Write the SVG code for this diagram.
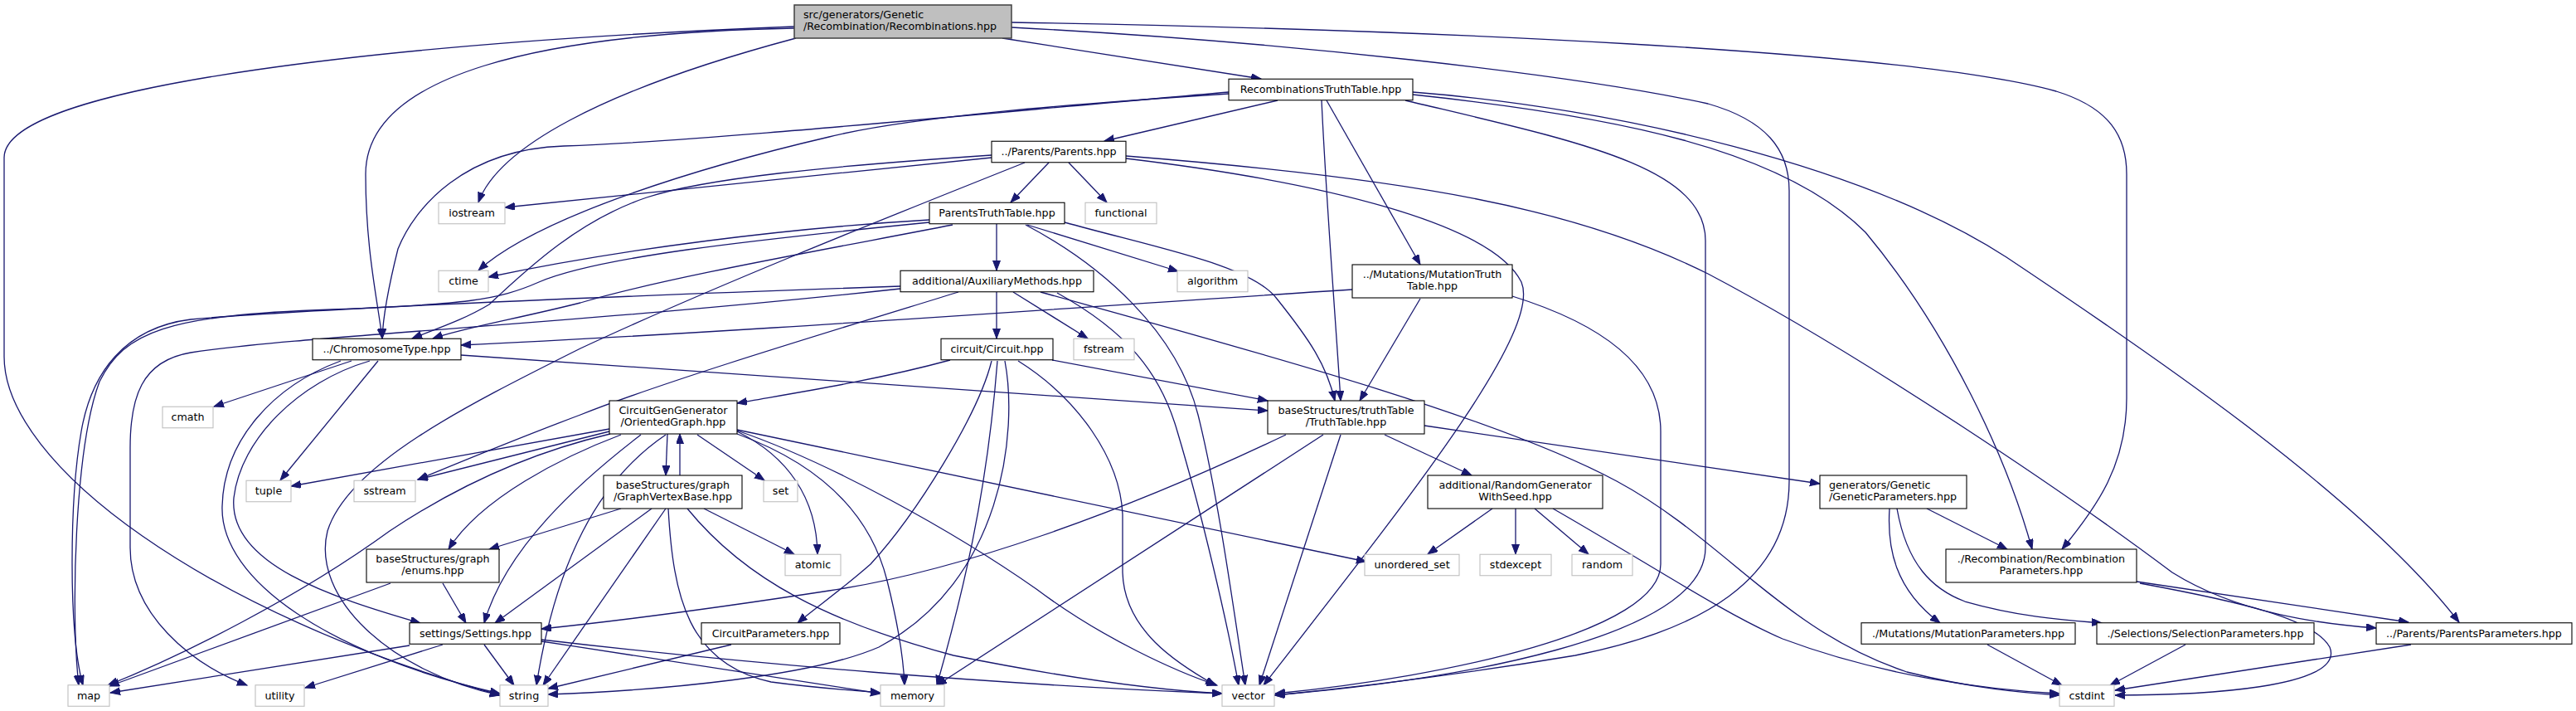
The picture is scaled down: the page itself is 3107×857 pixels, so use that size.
<svg xmlns="http://www.w3.org/2000/svg" width="3107" height="857" viewBox="0 0 3107 857">
<style>
rect{stroke-width:1.1}
.n rect{fill:#fff;stroke:#000}
.s rect{fill:#fff;stroke:#bfbfbf}
.r rect{fill:#bfbfbf;stroke:#404040;stroke-width:1.5}
text{font-family:"DejaVu Sans","Liberation Sans",sans-serif;font-size:12.7px;fill:#000;text-anchor:middle}
.l text{text-anchor:start}
#edges path{fill:none;stroke:#191970;stroke-width:1.3;marker-end:url(#a)}
</style>
<defs>
<marker id="a" markerWidth="14" markerHeight="11" refX="12" refY="4.5" orient="auto" markerUnits="userSpaceOnUse"><path d="M0,0 L12,4.5 L0,9 z" fill="#191970" stroke="#191970" stroke-width="1"/></marker>
</defs>
<rect width="3107" height="857" fill="#fff"/>
<g id="edges">
<path d="M958,32 C500,50 5,100 5,190 L5,430 C5,560 250,740 603,838"/>
<path d="M958,34 C650,40 441,90 441,210 C441,300 455,360 461,408"/>
<path d="M960,46 C720,110 600,180 577,244"/>
<path d="M1209,46 L1521,95"/>
<path d="M1220,27 C1700,35 2300,60 2480,110 C2545,130 2565,165 2565,210 L2565,480 C2565,560 2530,610 2487,662"/>
<path d="M1220,33 C1550,50 1900,90 2060,125 C2130,145 2158,180 2158,230 L2158,580 C2158,700 2050,760 1900,790 C1750,815 1620,830 1538,838"/>
<path d="M1482,111 C1150,140 850,170 680,176 C560,180 500,250 480,300 C470,340 462,380 461,408"/>
<path d="M1482,113 C1300,125 1100,140 1000,165 C850,200 650,260 577,326"/>
<path d="M1541,121 L1332,170"/>
<path d="M1594,121 C1600,250 1612,400 1617,483"/>
<path d="M1600,121 L1713,319"/>
<path d="M1695,121 C1900,170 2057,200 2057,290 L2057,660 C2057,770 1750,820 1537,838"/>
<path d="M1704,111 C1950,130 2250,200 2420,310 C2600,430 2850,600 2966,750"/>
<path d="M1704,114 C1950,140 2150,180 2250,280 C2350,400 2420,550 2451,662"/>
<path d="M1196,187 C1000,200 850,215 780,238 C700,265 640,320 590,367 C560,385 530,395 497,408"/>
<path d="M1196,190 C1000,210 800,230 609,250"/>
<path d="M1236,196 C1050,270 850,350 700,420 C560,490 420,560 395,640 C375,720 470,810 603,838"/>
<path d="M1265,196 L1219,244"/>
<path d="M1289,196 L1335,244"/>
<path d="M1358,191 C1600,220 1800,270 1835,340 C1860,400 1700,600 1524,826"/>
<path d="M1358,188 C1700,215 1900,250 2060,330 C2250,430 2500,600 2620,690 C2700,740 2800,752 2866,757"/>
<path d="M1121,265 C950,275 750,300 589,334"/>
<path d="M1149,271 C1000,300 800,335 700,365 C620,385 560,395 522,408"/>
<path d="M1121,268 C900,290 720,310 650,340 C600,362 560,367 400,373 C200,380 150,400 120,460 C90,540 85,740 95,826"/>
<path d="M1202,270 L1202,326"/>
<path d="M1239,271 L1421,327"/>
<path d="M1237,271 C1330,320 1420,400 1445,500 C1470,600 1490,750 1502,826"/>
<path d="M1284,268 C1400,300 1510,320 1540,360 C1580,410 1600,440 1610,483"/>
<path d="M1202,352 L1202,408"/>
<path d="M1222,352 L1312,408"/>
<path d="M1156,352 C1000,400 800,460 700,500 C620,530 560,555 504,578"/>
<path d="M1255,352 C1500,420 1800,500 1950,580 C2080,650 2150,760 2300,810 C2380,830 2440,835 2484,838"/>
<path d="M1275,353 C1360,400 1400,450 1420,520 C1450,620 1480,750 1494,826"/>
<path d="M1086,345 C800,355 400,370 230,385 C150,395 110,450 98,520 C84,600 82,760 100,826"/>
<path d="M1086,348 C700,390 360,405 230,425 C170,435 157,480 157,540 L157,660 C157,740 230,800 298,826"/>
<path d="M1146,434 C1050,460 950,475 889,486"/>
<path d="M1269,434 L1529,483"/>
<path d="M1196,435 C1180,500 1105,620 1050,680 C1010,715 980,735 962,751"/>
<path d="M1203,435 C1190,600 1160,720 1130,826"/>
<path d="M1212,435 C1228,520 1210,700 1060,780 C980,815 800,832 661,837"/>
<path d="M1228,435 C1300,480 1351,553 1354,620 L1354,690 C1356,760 1420,800 1466,826"/>
<path d="M1631,349 C1300,370 900,400 556,416"/>
<path d="M1713,360 L1640,483"/>
<path d="M1824,357 C1930,390 2003,440 2003,520 L2003,680 C2003,760 1750,815 1538,836"/>
<path d="M556,428 L1529,495"/>
<path d="M424,435 L258,490"/>
<path d="M456,435 L338,579"/>
<path d="M446,435 C360,460 290,530 282,600 C275,680 400,720 507,751"/>
<path d="M411,435 C330,465 270,530 268,610 C265,700 400,790 603,836"/>
<path d="M805,523 L803,573"/>
<path d="M820,573 L820,523"/>
<path d="M735,517 L351,586"/>
<path d="M735,520 L504,578"/>
<path d="M736,523 C620,550 530,600 470,640 C360,720 220,790 130,826"/>
<path d="M749,524 C680,550 580,600 541,662"/>
<path d="M773,524 C700,580 610,660 584,751"/>
<path d="M803,524 C720,580 670,680 647,826"/>
<path d="M841,524 L922,579"/>
<path d="M889,520 C950,550 985,600 986,668"/>
<path d="M889,518 L1648,677"/>
<path d="M889,523 C990,560 1050,620 1070,700 C1085,760 1090,800 1091,826"/>
<path d="M889,519 C1000,557 1150,640 1250,710 C1330,770 1420,810 1468,826"/>
<path d="M749,613 L590,662"/>
<path d="M786,613 L597,751"/>
<path d="M803,613 L655,826"/>
<path d="M849,613 L958,668"/>
<path d="M806,613 C812,720 830,800 930,822 C990,830 1030,832 1062,835"/>
<path d="M829,613 C900,700 1000,750 1150,790 C1300,820 1400,832 1474,836"/>
<path d="M471,703 L132,827"/>
<path d="M534,703 L562,751"/>
<path d="M494,778 L133,835"/>
<path d="M534,777 L368,829"/>
<path d="M584,777 L620,826"/>
<path d="M653,773 C800,795 950,820 1062,836"/>
<path d="M653,771 C900,800 1200,825 1474,836"/>
<path d="M882,777 L661,830"/>
<path d="M1551,524 C1350,620 1150,690 1000,712 C850,735 750,748 653,758"/>
<path d="M1596,524 L1130,826"/>
<path d="M1617,524 L1519,826"/>
<path d="M1670,524 L1775,573"/>
<path d="M1718,513 L2195,583"/>
<path d="M1800,613 L1722,668"/>
<path d="M1828,613 L1828,668"/>
<path d="M1851,613 L1916,668"/>
<path d="M1873,613 C1990,680 2080,740 2150,770 C2270,815 2400,832 2484,836"/>
<path d="M2324,613 L2421,662"/>
<path d="M2279,613 C2276,660 2285,710 2340,751"/>
<path d="M2288,613 C2300,680 2330,710 2370,725 C2440,745 2500,748 2535,751"/>
<path d="M2577,701 L2905,750"/>
<path d="M2581,703 C2700,725 2790,745 2810,780 C2830,830 2650,838 2551,838"/>
<path d="M2397,777 L2487,826"/>
<path d="M2636,777 L2545,826"/>
<path d="M2908,777 L2551,832"/>
</g>
<g id="root" class="r l"><rect x="958" y="6" width="262" height="40"/><text x="969" y="21.5">src/generators/Genetic</text><text x="969" y="36">/Recombination/Recombinations.hpp</text></g>
<g id="recombinationsTruthTable" class="n"><rect x="1482" y="95.25" width="222" height="25.5"/><text x="1593" y="112">RecombinationsTruthTable.hpp</text></g>
<g id="parents" class="n"><rect x="1196" y="170.25" width="162" height="25.5"/><text x="1277" y="187">../Parents/Parents.hpp</text></g>
<g id="parentsTruthTable" class="n"><rect x="1121" y="244.25" width="163" height="25.5"/><text x="1202.5" y="261">ParentsTruthTable.hpp</text></g>
<g id="functional" class="s"><rect x="1309" y="244.25" width="86" height="25.5"/><text x="1352" y="261">functional</text></g>
<g id="iostream" class="s"><rect x="529" y="244.25" width="80" height="25.5"/><text x="569" y="261">iostream</text></g>
<g id="ctime" class="s"><rect x="529" y="326.25" width="60" height="25.5"/><text x="559" y="343">ctime</text></g>
<g id="auxiliaryMethods" class="n"><rect x="1086" y="326.25" width="233" height="25.5"/><text x="1202.5" y="343">additional/AuxiliaryMethods.hpp</text></g>
<g id="algorithm" class="s"><rect x="1420" y="326.25" width="85" height="25.5"/><text x="1462.5" y="343">algorithm</text></g>
<g id="mutationTruthTable" class="n"><rect x="1631" y="319" width="193" height="40"/><text x="1727.5" y="334.5">../Mutations/MutationTruth</text><text x="1727.5" y="349">Table.hpp</text></g>
<g id="chromosomeType" class="n"><rect x="377" y="408.25" width="179" height="25.5"/><text x="466.5" y="425">../ChromosomeType.hpp</text></g>
<g id="circuit" class="n"><rect x="1135" y="408.25" width="135" height="25.5"/><text x="1202.5" y="425">circuit/Circuit.hpp</text></g>
<g id="fstream" class="s"><rect x="1295" y="408.25" width="73" height="25.5"/><text x="1331.5" y="425">fstream</text></g>
<g id="cmath" class="s"><rect x="196" y="490.25" width="61" height="25.5"/><text x="226.5" y="507">cmath</text></g>
<g id="orientedGraph" class="n"><rect x="735" y="483" width="154" height="40"/><text x="812" y="498.5">CircuitGenGenerator</text><text x="812" y="513">/OrientedGraph.hpp</text></g>
<g id="truthTable" class="n"><rect x="1529" y="483" width="189" height="40"/><text x="1623.5" y="498.5">baseStructures/truthTable</text><text x="1623.5" y="513">/TruthTable.hpp</text></g>
<g id="tuple" class="s"><rect x="297" y="579.25" width="54" height="25.5"/><text x="324" y="596">tuple</text></g>
<g id="sstream" class="s"><rect x="427" y="579.25" width="74" height="25.5"/><text x="464" y="596">sstream</text></g>
<g id="graphVertexBase" class="n"><rect x="728" y="573" width="167" height="40"/><text x="811.5" y="588.5">baseStructures/graph</text><text x="811.5" y="603">/GraphVertexBase.hpp</text></g>
<g id="set" class="s"><rect x="921" y="579.25" width="41" height="25.5"/><text x="941.5" y="596">set</text></g>
<g id="randomGenerator" class="n"><rect x="1722" y="573" width="211" height="40"/><text x="1827.5" y="588.5">additional/RandomGenerator</text><text x="1827.5" y="603">WithSeed.hpp</text></g>
<g id="geneticParameters" class="n l"><rect x="2195" y="573" width="177" height="40"/><text x="2206" y="588.5">generators/Genetic</text><text x="2206" y="603">/GeneticParameters.hpp</text></g>
<g id="enums" class="n"><rect x="442" y="662" width="160" height="40"/><text x="522" y="677.5">baseStructures/graph</text><text x="522" y="692">/enums.hpp</text></g>
<g id="atomic" class="s"><rect x="947" y="668.25" width="67" height="25.5"/><text x="980.5" y="685">atomic</text></g>
<g id="unordered_set" class="s"><rect x="1646" y="668.25" width="114" height="25.5"/><text x="1703" y="685">unordered_set</text></g>
<g id="stdexcept" class="s"><rect x="1785" y="668.25" width="86" height="25.5"/><text x="1828" y="685">stdexcept</text></g>
<g id="random" class="s"><rect x="1896" y="668.25" width="73" height="25.5"/><text x="1932.5" y="685">random</text></g>
<g id="recombinationParameters" class="n"><rect x="2347" y="662" width="230" height="40"/><text x="2462" y="677.5">./Recombination/Recombination</text><text x="2462" y="692">Parameters.hpp</text></g>
<g id="settings" class="n"><rect x="494" y="750.75" width="159" height="25.5"/><text x="573.5" y="767.5">settings/Settings.hpp</text></g>
<g id="circuitParameters" class="n"><rect x="846" y="750.75" width="167" height="25.5"/><text x="929.5" y="767.5">CircuitParameters.hpp</text></g>
<g id="mutationParameters" class="n"><rect x="2245" y="750.75" width="258" height="25.5"/><text x="2374" y="767.5">./Mutations/MutationParameters.hpp</text></g>
<g id="selectionParameters" class="n"><rect x="2529" y="750.75" width="262" height="25.5"/><text x="2660" y="767.5">./Selections/SelectionParameters.hpp</text></g>
<g id="parentsParameters" class="n"><rect x="2866" y="750.75" width="236" height="25.5"/><text x="2984" y="767.5">../Parents/ParentsParameters.hpp</text></g>
<g id="map" class="s"><rect x="82" y="825.75" width="50" height="25.5"/><text x="107" y="842.5">map</text></g>
<g id="utility" class="s"><rect x="308" y="825.75" width="59" height="25.5"/><text x="337.5" y="842.5">utility</text></g>
<g id="string" class="s"><rect x="603" y="825.75" width="58" height="25.5"/><text x="632" y="842.5">string</text></g>
<g id="memory" class="s"><rect x="1062" y="825.75" width="77" height="25.5"/><text x="1100.5" y="842.5">memory</text></g>
<g id="vector" class="s"><rect x="1474" y="825.75" width="63" height="25.5"/><text x="1505.5" y="842.5">vector</text></g>
<g id="cstdint" class="s"><rect x="2484" y="825.75" width="66" height="25.5"/><text x="2517" y="842.5">cstdint</text></g>
</svg>
